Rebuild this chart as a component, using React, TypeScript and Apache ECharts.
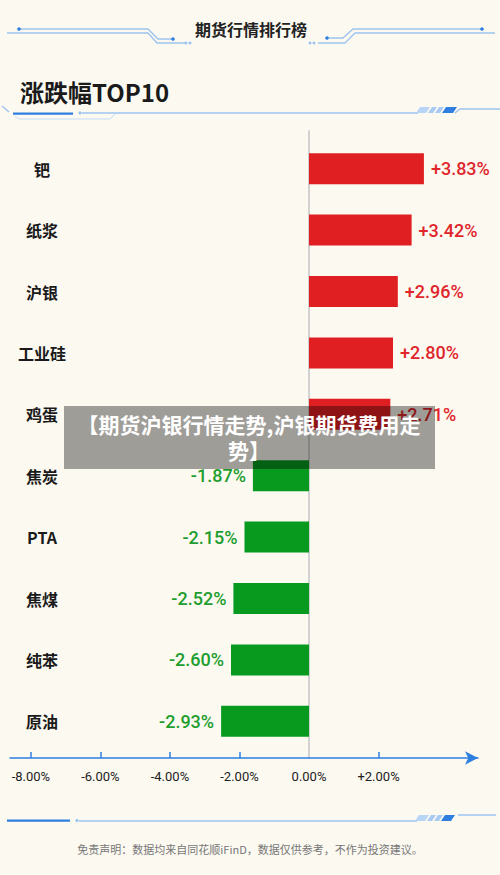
import React, { useEffect, useRef } from "react";
import * as echarts from "echarts";

const categories = ["钯", "纸浆", "沪银", "工业硅", "鸡蛋", "焦炭", "PTA", "焦煤", "纯苯", "原油"];
const changes = [3.83, 3.42, 2.96, 2.8, 2.71, -1.87, -2.15, -2.52, -2.6, -2.93];
const labelTicks = [-8, -6, -4, -2, 0, 2];
const markTicks = [-8, -6, -4, -2, 2];

const headerTitle = "期货行情排行榜";
const chartTitle = "涨跌幅TOP10";
const bannerText = "【期货沪银行情走势,沪银期货费用走\n势】";
const footerText = "免责声明：数据均来自同花顺iFinD，数据仅供参考，不作为投资建议。";

const BG = "#FCF9F1";
const RED = "#DF1F22";
const GREEN = "#079A1F";
const RED_TXT = "#E0262B";
const GREEN_TXT = "#1E9E2E";
const BLUE = "#2E7FE0";
const LBLUE = "#9CC3F0";

const fmt = (v: number) => (v > 0 ? "+" : "") + v.toFixed(2) + "%";

export default function App() {
  const ref = useRef<HTMLDivElement>(null);
  useEffect(() => {
    if (!ref.current) return;
    const chart = echarts.init(ref.current, undefined, { renderer: "svg" });

    const barData = changes.map((v) => ({
      value: v,
      itemStyle: { color: v >= 0 ? RED : GREEN },
      label: {
        position: v >= 0 ? "right" : "left",
        color: v >= 0 ? RED_TXT : GREEN_TXT,
      },
    }));

    const line = (points: number[][], stroke = LBLUE, lineWidth = 1.3) => ({
      type: "polyline",
      shape: { points },
      style: { stroke, lineWidth, fill: null },
      silent: true,
    });
    const dot = (cx: number, cy: number, r = 2, fill = BLUE) => ({
      type: "circle",
      shape: { cx, cy, r },
      style: { fill },
      silent: true,
    });
    const poly = (points: number[][], fill: string) => ({
      type: "polygon",
      shape: { points },
      style: { fill },
      silent: true,
    });

    const graphics: any[] = [
      // header
      {
        type: "text",
        x: 251,
        y: 29,
        style: {
          text: headerTitle,
          fontSize: 16,
          fontWeight: "bold",
          fill: "#222",
          align: "center",
          verticalAlign: "middle",
          fontFamily: "Noto Sans CJK SC",
        },
      },
      line([[19, 29], [148, 29], [158, 39], [173, 39]]),
      line([[7, 33], [148, 33], [157, 43], [185, 43]]),
      dot(19, 29, 1.8),
      dot(173, 39, 1.8),
      dot(186, 43, 1.5, LBLUE),
      dot(190, 43, 1.5, LBLUE),
      line([[482, 29], [353, 29], [343, 38], [327, 38]]),
      line([[495, 33], [355, 33], [345, 43], [318, 43]]),
      dot(482, 29, 1.8),
      dot(327, 38, 1.8),
      dot(314, 43, 1.5, LBLUE),
      dot(310, 43, 1.5, LBLUE),
      // chart title
      {
        type: "text",
        x: 20,
        y: 91,
        style: {
          text: chartTitle,
          fontSize: 24,
          fontWeight: "bold",
          fill: "#1a1a1a",
          align: "left",
          verticalAlign: "middle",
          fontFamily: "Noto Sans CJK SC",
        },
      },
      line([[2, 106], [9, 112]]),
      { type: "rect", shape: { x: 13, y: 112.5, width: 60, height: 2.2 }, style: { fill: BLUE }, silent: true },
      line([[15, 116], [19, 119], [110, 119], [115, 114]], "#C4DBF5", 1),
      poly([[80, 111], [82, 113], [80, 115], [78, 113]], LBLUE),
      line([[82, 113], [418, 113]]),
      poly([[420, 107], [430, 107], [426, 113], [416, 113]], "#B9D5F5"),
      poly([[432, 107], [437, 107], [433, 113], [428, 113]], "#A9CBF3"),
      poly([[439, 107], [444, 107], [440, 113], [435, 113]], "#A9CBF3"),
      poly([[446, 107], [457, 107], [453, 113], [442, 113]], BLUE),
      line([[455, 113], [460, 109], [500, 109]]),
      // footer decor
      { type: "rect", shape: { x: 7, y: 819.5, width: 63, height: 2.2 }, style: { fill: BLUE }, silent: true },
      poly([[77, 818.5], [79, 820.5], [77, 822.5], [75, 820.5]], LBLUE),
      line([[79, 821], [417, 821]]),
      poly([[419, 815], [429, 815], [425, 821], [415, 821]], "#B9D5F5"),
      poly([[431, 815], [436, 815], [432, 821], [427, 821]], "#A9CBF3"),
      poly([[438, 815], [443, 815], [439, 821], [434, 821]], "#A9CBF3"),
      poly([[445, 815], [455, 815], [451, 821], [441, 821]], BLUE),
      line([[458, 815], [496, 815]]),
      {
        type: "text",
        x: 250,
        y: 849,
        style: {
          text: footerText,
          fontSize: 11,
          fill: "#777",
          align: "center",
          verticalAlign: "middle",
          fontFamily: "Noto Sans CJK SC",
        },
      },
      // banner overlay
      {
        type: "group",
        z: 100,
        children: [
          {
            type: "rect",
            shape: { x: 64, y: 406, width: 371, height: 63 },
            style: { fill: "rgba(0,0,0,0.37)" },
            z: 100,
          },
          {
            type: "text",
            x: 249,
            y: 437,
            z: 101,
            style: {
              text: bannerText,
              fontSize: 21,
              lineHeight: 26,
              fontWeight: "bold",
              fill: "#fff",
              align: "center",
              verticalAlign: "middle",
              fontFamily: "Noto Sans CJK SC",
            },
          },
        ],
      },
    ];

    chart.setOption({
      animation: false,
      backgroundColor: BG,
      grid: [
        { left: 10, right: 22, top: 138, bottom: 123, containLabel: false },
        { left: 10, right: 22, top: 131, bottom: 117, containLabel: false },
      ],
      xAxis: [
        {
          type: "value",
          gridIndex: 0,
          min: -9.967,
          max: 5.633,
          show: false,
        },
        {
          type: "value",
          gridIndex: 1,
          min: -8.6,
          max: 4.86,
          position: "bottom",
          axisLine: {
            show: true,
            onZero: true,
            lineStyle: { color: BLUE, width: 1.5 },
            symbol: ["none", "arrow"],
            symbolSize: [10, 13],
          },
          axisTick: {
            show: true,
            inside: true,
            length: 6,
            customValues: markTicks,
            lineStyle: { color: BLUE, width: 1.5 },
          },
          axisLabel: {
            show: true,
            customValues: labelTicks,
            formatter: (v: number) => fmt(v),
            color: "#222",
            fontSize: 13,
            margin: 12,
            fontFamily: "Roboto",
          },
          splitLine: { show: false },
        },
      ],
      yAxis: [
        {
          type: "category",
          gridIndex: 0,
          inverse: true,
          data: categories,
          axisLine: { show: false },
          axisTick: { show: false },
          splitLine: { show: false },
          axisLabel: {
            align: "center",
            margin: -32,
            fontSize: 16,
            fontWeight: "bold",
            color: "#1a1a1a",
            fontFamily: "Noto Sans CJK SC",
          },
        },
        {
          type: "value",
          gridIndex: 1,
          min: 0,
          max: 1,
          axisLine: { show: true, onZero: true, lineStyle: { color: "#D2D2D2", width: 2 } },
          axisTick: { show: false },
          axisLabel: { show: false },
          splitLine: { show: false },
        },
      ],
      series: [
        {
          type: "bar",
          xAxisIndex: 0,
          yAxisIndex: 0,
          data: barData,
          barWidth: 31,
          label: {
            show: true,
            distance: 7,
            fontSize: 18,
            fontWeight: 500,
            fontFamily: "Roboto",
            formatter: (p: any) => fmt(p.value),
          },
        },
      ],
      graphic: graphics,
    });
    return () => chart.dispose();
  }, []);

  return (
    <div
      ref={ref}
      style={{ position: "absolute", left: 0, top: 0, width: 500, height: 875, background: BG }}
    />
  );
}
